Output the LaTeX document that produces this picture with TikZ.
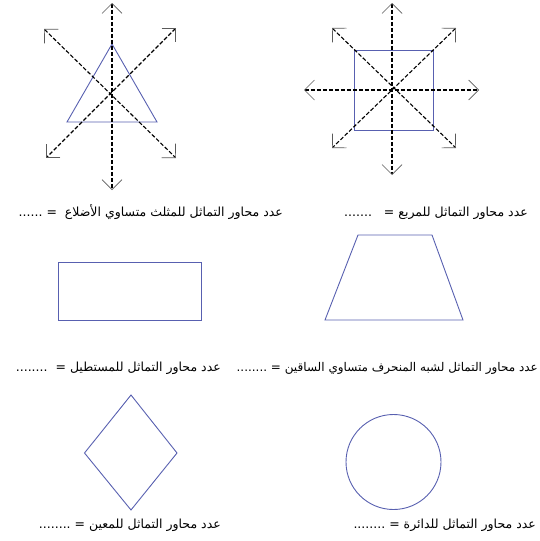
\documentclass[tikz,border=0pt]{standalone}
\usepackage{fontspec}
\newfontfamily\arabicfont[Script=Arabic]{DejaVu Sans}
\TeXXeTstate=1
\usetikzlibrary{arrows.meta}
\definecolor{shapeblue}{RGB}{88,96,176}
\definecolor{tipgray}{RGB}{90,90,90}
\begin{document}
\begin{tikzpicture}[x=1pt,y=-1pt,
  barb/.tip={Straight Barb[length=10pt,width=20pt,line width=0.7pt,color=tipgray]},
  symaxis/.style={draw=black,line width=1.1pt,dash pattern=on 4pt off 2pt,barb-barb},
  fig/.style={draw=shapeblue,line width=0.9pt},
  lbl/.style={anchor=base east,inner sep=0pt,font=\arabicfont\fontsize{12.5}{15}\selectfont}]
\useasboundingbox (0,0) rectangle (540,541);
% triangle
\coordinate (T1) at (112,44);
\coordinate (T2) at (157,122);
\coordinate (T3) at (67,122);
\draw[fig] (T1)--(T2)--(T3)--cycle;
\coordinate (tVa) at (112,3);   \coordinate (tVb) at (112,190);
\coordinate (tD1a) at (44,29);  \coordinate (tD1b) at (176,158);
\coordinate (tD2a) at (176,28); \coordinate (tD2b) at (46,158);
\draw[symaxis,line width=2pt] (tVa) -- (tVb);
\draw[symaxis] (tD1a) -- (tD1b);
\draw[symaxis] (tD2a) -- (tD2b);
% square
\coordinate (S1) at (354,50);
\coordinate (S2) at (433,130);
\draw[fig] (S1) rectangle (S2);
\coordinate (sVa) at (392,3);   \coordinate (sVb) at (392,175);
\coordinate (sHa) at (304,90);  \coordinate (sHb) at (479,90);
\coordinate (sD1a) at (332,28); \coordinate (sD1b) at (456,148);
\coordinate (sD2a) at (456,28); \coordinate (sD2b) at (332,148);
\draw[symaxis] (sVa) -- (sVb);
\draw[symaxis] (sHa) -- (sHb);
\draw[symaxis] (sD1a) -- (sD1b);
\draw[symaxis] (sD2a) -- (sD2b);
% rectangle
\coordinate (R1) at (58,262);
\coordinate (R2) at (201,320);
\draw[fig] (R1) rectangle (R2);
% trapezoid
\coordinate (Z1) at (358,235);
\coordinate (Z2) at (432,235);
\coordinate (Z3) at (463,320);
\coordinate (Z4) at (325,320);
\draw[fig] (Z1)--(Z2)--(Z3)--(Z4)--cycle;
% rhombus
\coordinate (H1) at (131,395);
\coordinate (H2) at (177,453);
\coordinate (H3) at (131,510);
\coordinate (H4) at (84.5,453);
\draw[fig] (H1)--(H2)--(H3)--(H4)--cycle;
% circle
\coordinate (C) at (393.5,462);
\draw[fig] (C) circle[radius=47.5];
% labels
\node[lbl] (l1) at (283,216) {\beginR عدد محاور التماثل للمثلث متساوي الأضلاع \ = ......\endR};
\node[lbl] (l2) at (528,216) {\beginR عدد محاور التماثل للمربع = \ \ .......\endR};
\node[lbl] (l3) at (221,371) {\beginR عدد محاور التماثل للمستطيل = \ ........\endR};
\node[lbl,font=\arabicfont\fontsize{12}{15}\selectfont] (l4) at (538,371) {\beginR عدد محاور التماثل لشبه المنحرف متساوي الساقين = ........\endR};
\node[lbl] (l5) at (221,528) {\beginR عدد محاور التماثل للمعين = ........\endR};
\node[lbl] (l6) at (536,528) {\beginR عدد محاور التماثل للدائرة = ........\endR};
\end{tikzpicture}
\end{document}
